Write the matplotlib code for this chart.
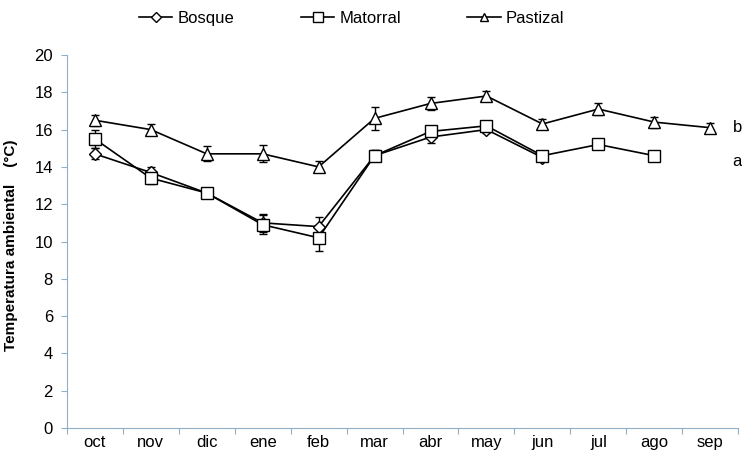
import matplotlib
matplotlib.use('Agg')
import matplotlib.pyplot as plt
from matplotlib.lines import Line2D
import numpy as np

plt.rcParams['font.family'] = ['Liberation Sans', 'DejaVu Sans']

meses = ["oct", "nov", "dic", "ene", "feb", "mar", "abr", "may", "jun", "jul", "ago", "sep"]

bosque = [14.7, 13.7, 12.6, 11.0, 10.8, 14.6, 15.6, 16.0, 14.5]
bosque_err = [0.3, 0.3, 0.2, 0.5, 0.5, 0.3, 0.3, 0.2, 0.2]

matorral = [15.5, 13.4, 12.6, 10.9, 10.2, 14.6, 15.9, 16.2, 14.6, 15.2, 14.6]
matorral_err = [0.5, 0.3, 0.2, 0.5, 0.7, 0.3, 0.3, 0.2, 0.2, 0.2, 0.2]

pastizal = [16.5, 16.0, 14.7, 14.7, 14.0, 16.6, 17.4, 17.8, 16.3, 17.1, 16.4, 16.1]
pastizal_err = [0.3, 0.3, 0.4, 0.45, 0.3, 0.6, 0.35, 0.25, 0.25, 0.3, 0.3, 0.25]

series = [("Bosque", bosque, bosque_err, 'D', 6),
          ("Matorral", matorral, matorral_err, 's', 9),
          ("Pastizal", pastizal, pastizal_err, '^', 8)]

fig = plt.figure(figsize=(7.42, 4.54), dpi=100)
ax = fig.add_axes([0.090, 0.057, 0.905, 0.822])

handles = []
for name, vals, err, mk, ms in series:
    ax.errorbar(np.arange(len(vals)), vals, yerr=err, marker=mk, ms=ms, color='black', lw=1.2,
                mfc='white', mec='black', mew=1.0, ecolor='black', elinewidth=1.0, capsize=3)
    handles.append(Line2D([], [], color='black', lw=1.2, marker=mk, ms=ms * 0.8,
                          mfc='white', mec='black', mew=1.0, label=name))

ax.text(11.4, pastizal[-1], 'b', fontsize=12, va='center', ha='left')
ax.text(11.4, 14.3, 'a', fontsize=12, va='center', ha='left')

ax.set_xlim(-0.5, 11.5)
ax.set_ylim(0, 20)
ax.set_yticks(np.arange(0, 21, 2))
ax.set_xticks(np.arange(-0.5, 12, 1))
ax.set_xticklabels([])
ax.set_xticks(np.arange(len(meses)), minor=True)
ax.set_xticklabels(meses, minor=True)
ax.tick_params(axis='x', which='minor', length=0, pad=5, labelsize=12)
ax.tick_params(axis='x', which='major', length=4, color='#8fb0c8', direction='out')
ax.tick_params(axis='y', length=4, color='#8fb0c8', labelsize=12, pad=6)

for s in ['top', 'right']:
    ax.spines[s].set_visible(False)
for s in ['left', 'bottom']:
    ax.spines[s].set_color('#8fb0c8')

ax.set_ylabel("Temperatura ambiental    (\u00b0C)", fontsize=11, fontweight='bold')
ax.yaxis.set_label_coords(-0.072, 0.49)

fig.legend(handles=handles, loc='center', bbox_to_anchor=(0.474, 0.96), ncol=3,
           frameon=False, fontsize=12, handlelength=2.0, handletextpad=0.3,
           columnspacing=4.0)

plt.savefig('out.png', dpi=100)
